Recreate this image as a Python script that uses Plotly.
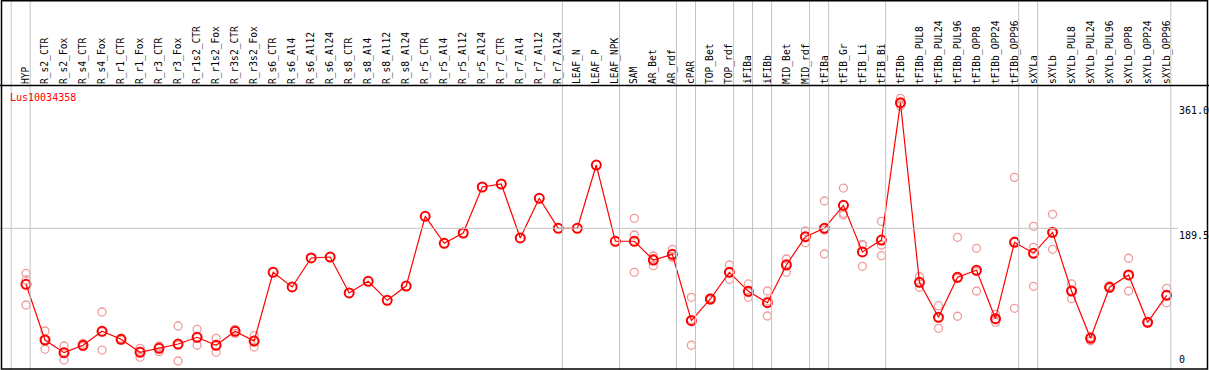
import plotly.graph_objects as go

categories = [
    "HYP", "R_s2_CTR", "R_s2_Fox", "R_s4_CTR", "R_s4_Fox", "R_r1_CTR", "R_r1_Fox",
    "R_r3_CTR", "R_r3_Fox", "R_r1s2_CTR", "R_r1s2_Fox", "R_r3s2_CTR", "R_r3s2_Fox",
    "R_s6_CTR", "R_s6_Al4", "R_s6_Al12", "R_s6_Al24", "R_s8_CTR", "R_s8_Al4",
    "R_s8_Al12", "R_s8_Al24", "R_r5_CTR", "R_r5_Al4", "R_r5_Al12", "R_r5_Al24",
    "R_r7_CTR", "R_r7_Al4", "R_r7_Al12", "R_r7_Al24", "LEAF_N", "LEAF_P", "LEAF_NPK",
    "SAM", "AR_Bet", "AR_rdf", "cPAR", "TOP_Bet", "TOP_rdf", "iFIBa", "iFIBb",
    "MID_Bet", "MID_rdf", "tFIBa", "tFIB_Gr", "tFIB_Li", "tFIB_Bi", "tFIBb",
    "tFIBb_PUL8", "tFIBb_PUL24", "tFIBb_PUL96", "tFIBb_OPP8", "tFIBb_OPP24",
    "tFIBb_OPP96", "sXYLa", "sXYLb", "sXYLb_PUL8", "sXYLb_PUL24", "sXYLb_PUL96",
    "sXYLb_OPP8", "sXYLb_OPP24", "sXYLb_OPP96",
]

means = [
    113.1, 37.0, 19.7, 29.8, 48.9, 38.0, 20.2, 25.7, 31.5, 40.7, 29.8, 48.9, 35.6,
    129.4, 109.4, 149.0, 150.3, 101.2, 117.1, 91.2, 110.7, 205.9, 169.0, 183.1, 245.9,
    250.0, 176.3, 230.5, 189.5, 189.5, 275.9, 171.8,
    171.8, 146.2, 154.0, 63.4, 93.0, 129.4, 103.5, 87.9, 139.4, 178.0, 189.5, 220.9,
    157.2, 173.5, 361.0, 115.8, 68.0, 122.6, 132.2, 66.1, 170.4, 155.4, 184.0, 103.9,
    39.3, 109.0, 125.8, 61.2, 98.0,
]

replicates = [
    [128.1, 118.9, 84.8],
    [49.3, 37.0, 24.3],
    [28.8, 20.5, 9.7],
    [32.5, 29.0, 27.9],
    [75.2, 48.2, 23.3],
    [39.5, 37.8, 36.7],
    [25.7, 21.5, 13.4],
    [28.8, 27.3, 21.0],
    [56.1, 30.1, 8.3],
    [51.6, 40.7, 29.8],
    [39.3, 29.9, 20.2],
    [51.6, 49.0, 46.1],
    [42.9, 36.5, 27.4],
    [], [], [], [], [], [], [], [], [], [], [], [], [], [], [], [], [], [], [],
    [203.2, 180.4, 129.4],
    [151.7, 148.4, 138.5],
    [160.8, 151.3, 149.9],
    [95.3, 65.1, 29.8],
    [94.5, 93.0, 91.5],
    [139.4, 128.9, 119.9],
    [113.5, 101.7, 95.3],
    [103.9, 90.0, 69.8],
    [147.6, 141.2, 129.4],
    [185.8, 178.3, 169.9],
    [226.8, 187.3, 154.4],
    [244.5, 210.0, 207.7],
    [166.7, 167.3, 137.6],
    [199.1, 166.7, 152.1],
    [367.0, 359.5, 356.5],
    [123.4, 115.0, 109.0],
    [83.8, 67.2, 53.0],
    [177.2, 121.2, 69.4],
    [162.2, 130.5, 103.9],
    [72.1, 65.0, 61.2],
    [259.1, 171.8, 80.3],
    [192.2, 163.6, 110.3],
    [208.6, 182.6, 160.8],
    [113.5, 104.8, 93.4],
    [41.5, 40.4, 36.0],
    [110.7, 108.7, 107.6],
    [148.6, 124.9, 103.9],
    [62.0, 61.2, 60.4],
    [107.6, 98.5, 87.9],
]

group_sizes = [1, 28, 3, 3, 1, 2, 1, 1, 2, 1, 3, 7, 1, 7]
tick_values = [0, 189.5, 361.0]
tick_labels = ["0", "189.5", "361.0"]
reference_line = 189.5
title = "Lus10034358"

W, H = 1209, 370
FONT = "DejaVu Sans Mono"

xi = list(range(len(categories)))
rx, ry = [], []
for i, reps in enumerate(replicates):
    for v in reps:
        rx.append(i)
        ry.append(v)

fig = go.Figure()
fig.add_trace(go.Scatter(
    x=rx, y=ry, mode="markers",
    marker=dict(symbol="circle-open", size=8, color="#f09a9a", line=dict(width=1.3)),
    hoverinfo="skip", showlegend=False,
))
fig.add_trace(go.Scatter(
    x=xi, y=means, mode="lines+markers",
    line=dict(color="#ff0000", width=1.2),
    marker=dict(symbol="circle-open", size=9, color="#ff0000", line=dict(width=2)),
    showlegend=False,
))

shapes = []
# group separators
bounds = [-1]
acc = 0
for g in group_sizes:
    acc += g
    bounds.append(acc - 1)
for b in bounds:
    shapes.append(dict(type="line", xref="x", yref="paper", x0=b + 0.22, x1=b + 0.22,
                       y0=0, y1=1, line=dict(color="#c4c4c4", width=1)))
# reference line
shapes.append(dict(type="line", xref="paper", yref="y", x0=0, x1=1178 / W,
                   y0=reference_line, y1=reference_line, line=dict(color="#c4c4c4", width=1)))
# header separator
shapes.append(dict(type="line", xref="paper", yref="paper", x0=0, x1=1,
                   y0=1 - 85.5 / H, y1=1 - 85.5 / H, line=dict(color="black", width=1.5)))
# frame
shapes.append(dict(type="rect", xref="paper", yref="paper", x0=1.5 / W, x1=1 - 1.5 / W,
                   y0=1 / H, y1=1 - 0.8 / H, line=dict(color="black", width=1.5)))

annotations = []
for v, t in zip(tick_values, tick_labels):
    annotations.append(dict(
        x=1177 / W, xref="paper", y=v, yref="y", text=t, showarrow=False,
        xanchor="left", yanchor="bottom" if v == 0 else "top",
        font=dict(family=FONT, size=10, color="black"),
    ))
annotations.append(dict(
    x=8 / W, xref="paper", y=1 - 90 / H, yref="paper", text=title, showarrow=False,
    xanchor="left", yanchor="top", font=dict(family=FONT, size=10, color="#ff0000"),
))

fig.update_layout(
    width=W, height=H, autosize=False,
    margin=dict(l=0, r=0, t=0, b=0, pad=0),
    paper_bgcolor="white", plot_bgcolor="white",
    shapes=shapes, annotations=annotations,
    xaxis=dict(
        range=[-26 / 19.01, (W - 26) / 19.01], tickmode="array", tickvals=xi,
        ticktext=categories, side="top", anchor="free", position=1 - 84 / H,
        tickangle=-90, ticks="", showgrid=False, zeroline=False, showline=False,
        tickfont=dict(family=FONT, size=9.6, color="black"),
    ),
    yaxis=dict(
        range=[(367.1 - H) / 0.7324, 367.1 / 0.7324], visible=False,
        showgrid=False, zeroline=False,
    ),
)

fig.write_html(
    "out.html",
    config={"displayModeBar": False},
    post_script="document.body.style.margin='0';document.body.style.padding='0';"
                "document.body.style.overflow='hidden';",
)
